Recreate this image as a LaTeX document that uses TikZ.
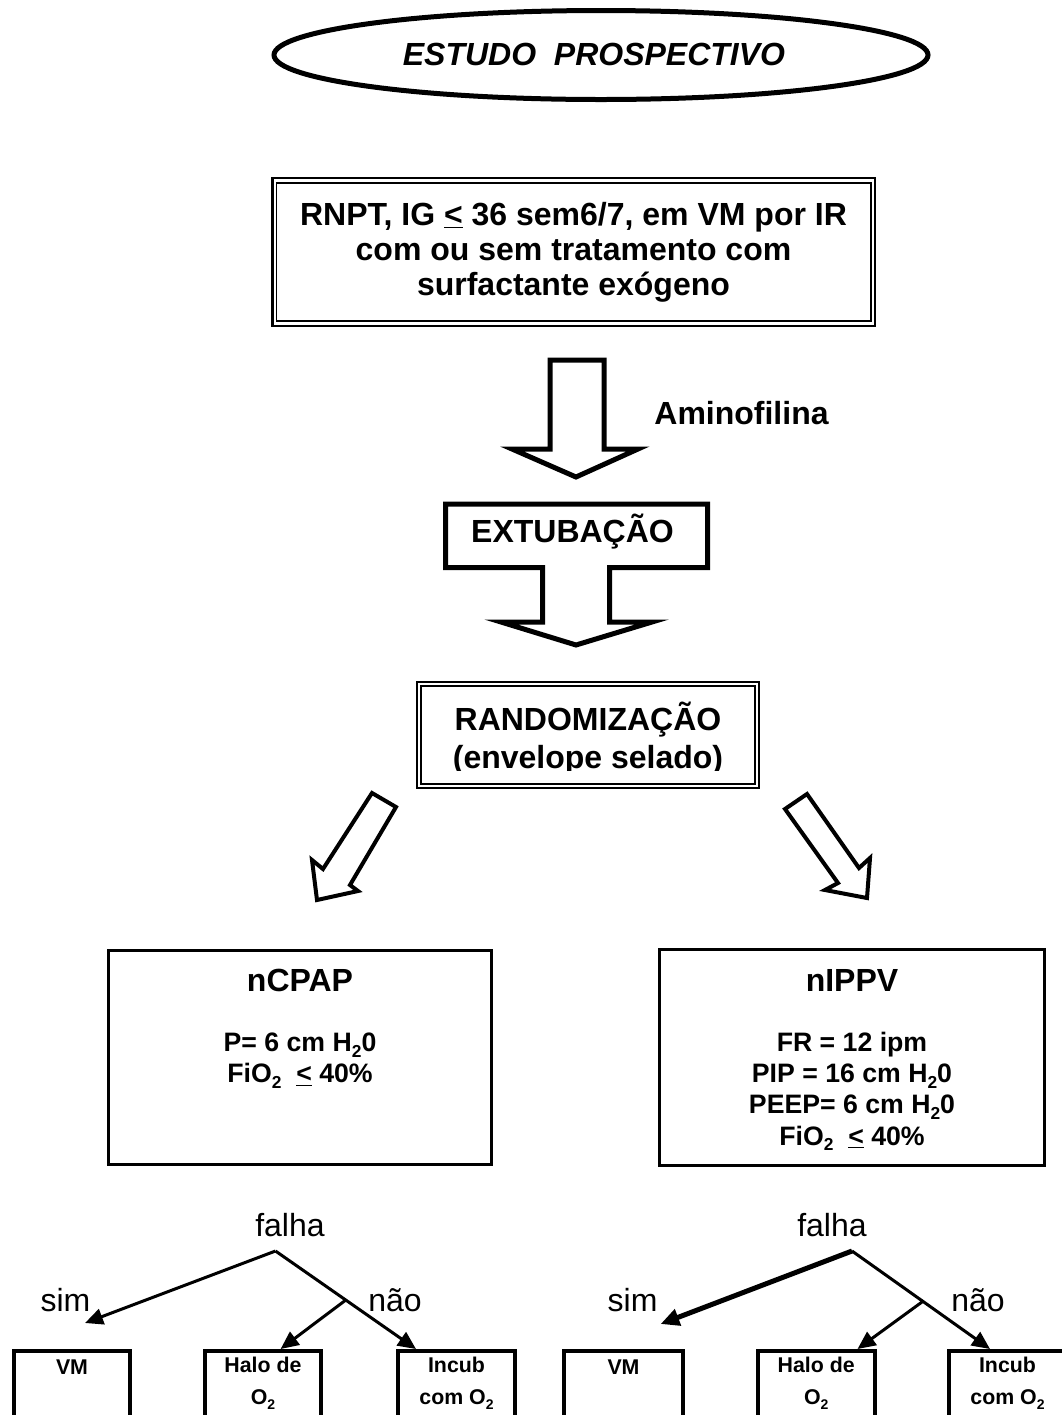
\documentclass[tikz,border=0pt]{standalone}
\usepackage{fontspec}
\setmainfont{Liberation Sans}
\usetikzlibrary{arrows.meta,shapes.geometric}
\newcommand{\subtwo}[1]{\raisebox{-0.22em}{\fontsize{#1}{#1}\selectfont 2}}
\begin{document}
\begin{tikzpicture}[x=0.75pt,y=-0.75pt,
  line join=miter,
  title/.style={font=\fontsize{24}{26.25}\selectfont\bfseries, align=center, inner sep=0pt},
  body/.style={font=\fontsize{20}{23.4}\selectfont\bfseries, align=center, inner sep=0pt},
  small/.style={font=\fontsize{16}{24.4}\selectfont\bfseries, align=center, inner sep=0pt},
  plaintext/.style={font=\fontsize{24}{28}\selectfont, inner sep=0pt},
  boxframe/.style={draw, line width=2.25pt, inner sep=0pt},
  outcome/.style={draw, line width=3pt, inner sep=0pt, minimum height=81.75pt},
  blockarrow/.style={draw, line width=3.75pt, fill=white},
  diagarrow/.style={draw, line width=3pt, fill=white},
  branch/.style={line width=2.25pt, -{Triangle[length=13.5pt,width=12pt]}},
]
\useasboundingbox (0,0) rectangle (1062,1415);

% title ellipse
\node[ellipse, draw, line width=3.75pt, minimum width=490.5pt, minimum height=66.75pt, inner sep=0pt] (study) at (601,55) {};
\node[font=\fontsize{24}{28}\selectfont\bfseries\itshape, inner sep=0pt] (studytxt) at (594,54) {ESTUDO~~PROSPECTIVO};

% inclusion box
\node[draw, line width=1.8pt, inner sep=0pt, minimum width=451.9pt, minimum height=111pt] (rnpt) at (573.75,252) {};
\draw[line width=1.2pt] ([shift={(5.3,6)}]rnpt.north west) rectangle ([shift={(-5.3,-6)}]rnpt.south east);
\node[title] (rnpttxt) at (573.5,252) {RNPT, IG \underline{<} 36 sem6/7, em VM por IR\\com ou sem tratamento com\\surfactante exógeno};

% first block arrow
\draw[blockarrow] (550,360) -- (604,360) -- (604,449) -- (638,449) -- (576,477) -- (512,449) -- (550,449) -- cycle;
\node[title] (amino) at (741.5,413) {Aminofilina};

% extubation callout
\draw[blockarrow] (445.5,504) -- (707.5,504) -- (707.5,567.5) -- (609.5,567.5) -- (609.5,622) -- (652,622) -- (576,645) -- (501,622) -- (542.5,622) -- (542.5,567.5) -- (445.5,567.5) -- cycle;
\node[title] (extub) at (572.5,532) {EXTUBAÇÃO};

% randomisation box
\node[draw, line width=1.8pt, inner sep=0pt, minimum width=256.5pt, minimum height=79.5pt] (rand) at (588,735) {};
\draw[line width=1.2pt] ([shift={(5,5)}]rand.north west) rectangle ([shift={(-5,-5)}]rand.south east);
\begin{scope}
\clip (417,682) rectangle (759,770);
\node[font=\fontsize{24}{28.5}\selectfont\bfseries, align=center, inner sep=0pt] (randtxt) at (588,738.5) {RANDOMIZAÇÃO\\(envelope selado)};
\end{scope}

% diagonal block arrows
\draw[diagarrow] (372,793) -- (396,807) -- (350,885) -- (358,891) -- (317,900) -- (312,860) -- (323,869) -- cycle;
\draw[diagarrow] (807,794) -- (859,868) -- (870,858) -- (867,898) -- (825,890) -- (838,883) -- (785,809) -- cycle;

% treatment boxes
\node[boxframe, minimum width=287.25pt, minimum height=160.5pt] (ncpap) at (300,1057.5) {};
\node[title] (ncpaptitle) at (300,980) {nCPAP};
\node[body] (ncpapbody) at (300,1061) {P= 6 cm H\subtwo{13}0\\FiO\subtwo{13}~~\underline{<}~40\%};

\node[boxframe, minimum width=288.75pt, minimum height=162pt] (nippv) at (852,1057.5) {};
\node[title] (nippvtitle) at (852,980) {nIPPV};
\node[body] (nippvbody) at (852,1091.5) {FR = 12 ipm\\PIP = 16 cm H\subtwo{13}0\\PEEP= 6 cm H\subtwo{13}0\\FiO\subtwo{13}~~\underline{<}~40\%};

% outcome boxes, left
\node[outcome, minimum width=87pt] (vm1) at (72,1405.5) {};
\node[outcome, minimum width=87pt] (halo1) at (263,1405.5) {};
\node[outcome, minimum width=88.1pt] (incub1) at (456.25,1405.5) {};
\node[small] (vm1txt) at (72,1367) {VM};
\node[small] (halo1txt) at (263,1383) {Halo de\\O\subtwo{10.5}};
\node[small] (incub1txt) at (456.5,1383) {Incub\\com O\subtwo{10.5}};

% outcome boxes, right
\node[outcome, minimum width=89.25pt] (vm2) at (623.5,1405.5) {};
\node[outcome, minimum width=88.1pt] (halo2) at (816.25,1405.5) {};
\node[outcome, minimum width=87.75pt] (incub2) at (1007.5,1405.5) {};
\node[small] (vm2txt) at (623.5,1367) {VM};
\node[small] (halo2txt) at (816.25,1383) {Halo de\\O\subtwo{10.5}};
\node[small] (incub2txt) at (1007.5,1383) {Incub\\com O\subtwo{10.5}};

% decision tree, left
\node[plaintext] (falha1) at (290,1225) {falha};
\node[plaintext] (sim1) at (65.5,1300) {sim};
\node[plaintext] (nao1) at (395,1300) {não};
\coordinate (j1) at (275.5,1251);
\coordinate (b1) at (346.5,1299.5);
\coordinate (s1) at (85,1323);
\coordinate (h1) at (280.6,1349);
\coordinate (i1) at (416,1349);
\draw[branch] (j1) -- (s1);
\draw[branch] (j1) -- (i1);
\draw[branch] (b1) -- (h1);

% decision tree, right
\node[plaintext] (falha2) at (832,1225) {falha};
\node[plaintext] (sim2) at (632.6,1300) {sim};
\node[plaintext] (nao2) at (978,1300) {não};
\coordinate (j2) at (852,1251);
\coordinate (b2) at (923.6,1300.8);
\coordinate (s2) at (660.6,1324);
\coordinate (h2) at (857.5,1349);
\coordinate (i2) at (990,1349);
\draw[branch, line width=3.75pt, -{Triangle[length=14pt,width=12.5pt]}] (j2) -- (s2);
\draw[branch] (j2) -- (i2);
\draw[branch] (b2) -- (h2);
\end{tikzpicture}
\end{document}
